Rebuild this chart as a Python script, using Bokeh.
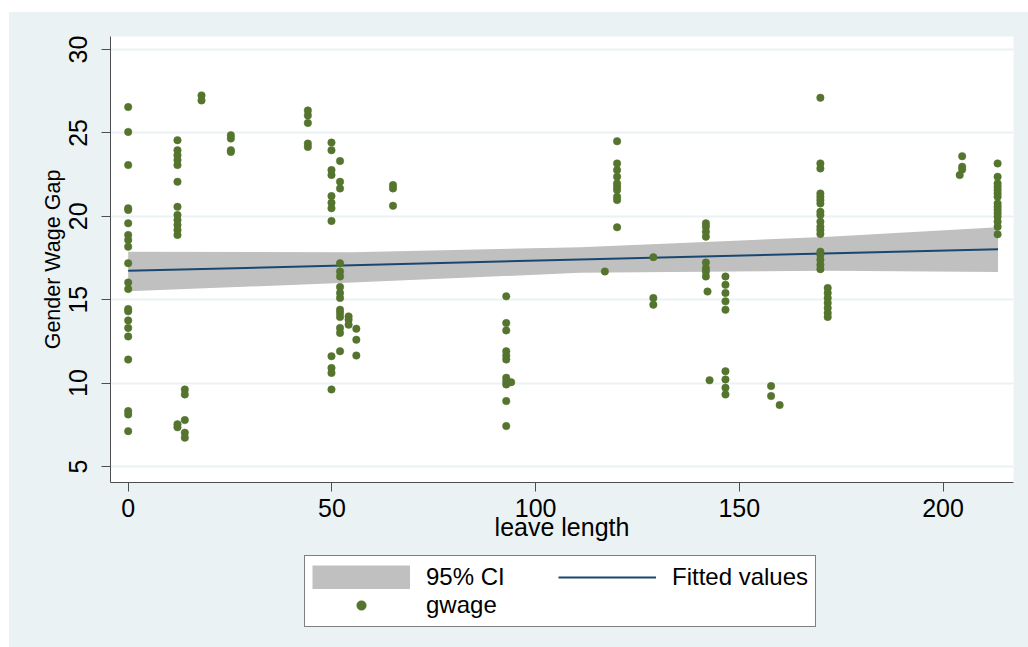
from bokeh.plotting import figure
from bokeh.models import Range1d, Legend, LegendItem, FixedTicker, Spacer
from bokeh.layouts import column, row
from bokeh.embed import file_html
from bokeh.resources import INLINE

# ---- data ----
leave_groups = [0, 12.1, 13.9, 18.0, 25.2, 44.1, 49.9, 52.0, 54.1, 56.0, 65.0,
                92.8, 94.0, 117.0, 120.0, 128.9, 141.8, 142.2, 142.7, 146.6,
                157.8, 159.9, 169.9, 171.7, 204.7, 204.1, 213.4]
gwage_groups = [
    [26.55, 25.06, 23.07, 20.48, 20.38, 19.58, 18.88, 18.58, 18.18, 17.19, 16.03,
     15.64, 14.44, 14.30, 13.76, 13.31, 12.80, 11.41, 8.32, 8.12, 7.12],
    [24.56, 23.96, 23.66, 23.37, 23.07, 22.07, 20.57, 20.08, 19.78, 19.48, 19.18,
     18.88, 7.53, 7.35],
    [9.62, 9.32, 7.78, 7.03, 6.73],
    [27.25, 26.95],
    [24.86, 24.66, 23.96, 23.86],
    [26.35, 26.05, 25.6, 24.36, 24.16],
    [24.42, 23.96, 22.77, 22.47, 21.21, 20.81, 20.48, 19.72, 11.61, 10.91, 10.61, 9.62],
    [23.31, 22.07, 21.67, 17.19, 16.69, 16.39, 15.76, 15.40, 15.10, 14.40, 14.20,
     13.96, 13.31, 13.01, 11.91],
    [14.0, 13.8, 13.5],
    [13.26, 12.6, 11.65],
    [21.87, 21.67, 20.63],
    [15.20, 13.60, 13.16, 11.91, 11.65, 11.41, 10.32, 10.11, 9.92, 8.92, 7.42],
    [10.05],
    [16.69],
    [24.5, 23.17, 22.77, 22.37, 21.97, 21.77, 21.57, 21.17, 20.97, 19.34],
    [17.55, 15.10, 14.70],
    [19.58, 19.38, 19.08, 18.78, 17.23, 16.89, 16.69, 16.39],
    [15.49],
    [10.17],
    [16.39, 15.89, 15.40, 14.90, 14.40, 10.71, 10.22, 9.72, 9.32],
    [9.82, 9.22],
    [8.68],
    [27.11, 23.17, 22.87, 21.37, 21.17, 20.97, 20.77, 20.27, 20.08, 19.68, 19.38,
     19.18, 18.94, 17.88, 17.69, 17.39, 17.09, 16.83],
    [15.7, 15.4, 15.1, 14.8, 14.5, 14.2, 13.96],
    [23.6, 22.97, 22.81],
    [22.47],
    [23.17, 22.37, 21.97, 21.77, 21.57, 21.37, 21.17, 20.77, 20.57, 20.38, 20.18,
     19.98, 19.68, 19.38, 18.92],
]

fit_x = [0, 213.5]
fit_y = [16.73, 18.03]

ci_x = [0, 55, 111, 172, 213.5]
ci_lo = [15.50, 16.03, 16.61, 16.74, 16.66]
ci_hi = [17.88, 17.85, 18.14, 18.78, 19.34]

x_ticks = [0, 50, 100, 150, 200]
y_ticks = [5, 10, 15, 20, 25, 30]

legend_labels = ["95% CI", "Fitted values", "gwage"]

leave_length = [x for x, ys in zip(leave_groups, gwage_groups) for _ in ys]
gwage = [y for ys in gwage_groups for y in ys]

# ---- styling ----
PANEL = "#EAF2F3"
FONT = "Liberation Sans"
CI_COLOR = "#C0C0C0"
FIT_COLOR = "#1A476F"
DOT_COLOR = "#55752F"

p = figure(frame_width=903, frame_height=446, output_backend="svg", toolbar_location=None,
           x_range=Range1d(-4.34, 217.3), y_range=Range1d(4.04, 30.78),
           min_border_left=101, min_border_right=15, min_border_top=24,
           min_border_bottom=70)
p.background_fill_color = "white"
p.border_fill_color = PANEL
p.outline_line_color = None

band = p.varea(x=ci_x, y1=ci_lo, y2=ci_hi, fill_color=CI_COLOR, fill_alpha=1.0)
line = p.line(fit_x, fit_y, line_color=FIT_COLOR, line_width=2)
pts = p.scatter(leave_length, gwage, size=7.5, fill_color=DOT_COLOR,
                line_color=DOT_COLOR, line_width=0.5)

p.xgrid.visible = False
p.ygrid.grid_line_color = PANEL
p.ygrid.grid_line_width = 2
p.ygrid.ticker = FixedTicker(ticks=y_ticks)

for ax in (p.xaxis[0], p.yaxis[0]):
    ax.axis_line_color = "#4D4D4D"
    ax.major_tick_line_color = "#4D4D4D"
    ax.major_tick_in = 0
    ax.major_tick_out = 9
    ax.minor_tick_line_color = None
    ax.major_label_text_font = FONT
    ax.major_label_text_color = "black"
    ax.major_label_text_font_size = "25px"
    ax.axis_label_text_font = FONT
    ax.axis_label_text_font_style = "normal"
    ax.axis_label_text_color = "black"

p.xaxis.ticker = FixedTicker(ticks=x_ticks)
p.yaxis.ticker = FixedTicker(ticks=y_ticks)
p.xaxis.axis_label = "leave length"
p.yaxis.axis_label = "Gender Wage Gap"
p.xaxis.axis_label_text_font_size = "25px"
p.yaxis.axis_label_text_font_size = "21.5px"
p.xaxis.major_label_standoff = 7
p.xaxis.axis_label_standoff = -7
p.yaxis.major_label_orientation = "vertical"
p.yaxis.major_label_standoff = 14
p.yaxis.axis_label_standoff = 2

# ---- legend panel (separate strip below the plot) ----
lg = figure(width=1019, height=95, output_backend="svg", toolbar_location=None,
            x_range=Range1d(0, 1), y_range=Range1d(0, 1),
            min_border_left=0, min_border_right=0, min_border_top=0,
            min_border_bottom=0)
lg.axis.visible = False
lg.grid.visible = False
lg.background_fill_color = PANEL
lg.border_fill_color = PANEL
lg.outline_line_color = None
# legend key renderers, kept outside the visible range of this strip
k_band = lg.line([-5, -4], [-5, -5], line_color=CI_COLOR, line_width=24, line_cap="butt")
k_line = lg.line([-5, -4], [-5, -5], line_color=FIT_COLOR, line_width=2)
k_pts = lg.scatter([-5], [-5], size=6.5, fill_color=DOT_COLOR,
                   line_color=DOT_COLOR, line_width=0.5)

# column-major fill: column 1 = 95% CI, gwage ; column 2 = Fitted values
legend = Legend(items=[LegendItem(label=legend_labels[0], renderers=[k_band]),
                       LegendItem(label=legend_labels[2], renderers=[k_pts]),
                       LegendItem(label=legend_labels[1], renderers=[k_line])],
                ncols=2, location=(194, 20))
legend.label_text_font = FONT
legend.label_text_font_size = "24px"
legend.label_text_color = "black"
legend.glyph_width = 98
legend.glyph_height = 24
legend.label_standoff = 16
legend.label_width = 132
legend.padding = 7
legend.spacing = 0
legend.margin = 0
legend.border_line_color = "black"
legend.border_line_width = 1
legend.background_fill_color = "white"
legend.background_fill_alpha = 1.0
lg.add_layout(legend, "center")

body = column(p, lg, spacing=0, styles={"background-color": PANEL})
layout = column(Spacer(height=12, width=1028),
                row(Spacer(width=9, height=10), body, spacing=0),
                spacing=0)
open("out.html", "w").write(file_html(layout, INLINE))
